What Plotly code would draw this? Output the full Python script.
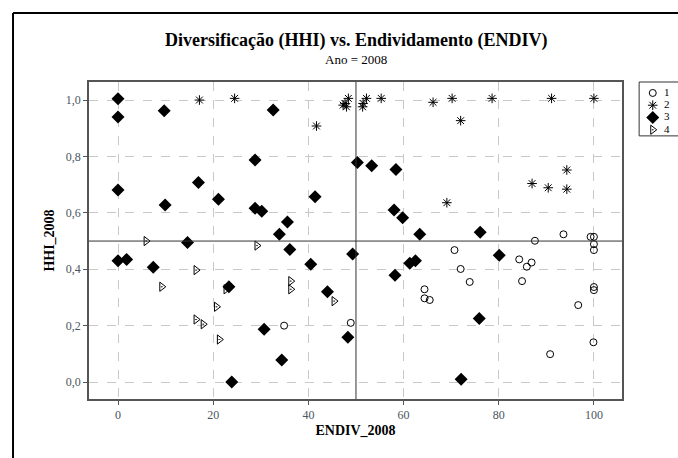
import plotly.graph_objects as go

# Group 1 (open circles)
g1_x = [34.9, 48.9, 64.4, 64.4, 65.5, 70.7, 72.0, 73.9, 84.3, 84.9, 85.9, 86.9, 87.6,
        90.8, 93.6, 96.7, 99.9, 99.3, 100.0, 100.0, 100.0, 100.0, 100.0]
g1_y = [0.200, 0.210, 0.329, 0.297, 0.291, 0.468, 0.401, 0.355, 0.435, 0.358, 0.409, 0.424, 0.501,
        0.099, 0.524, 0.273, 0.141, 0.515, 0.515, 0.489, 0.468, 0.337, 0.326]

# Group 2 (asterisks)
g2_x = [17.1, 24.5, 41.7, 48.4, 47.7, 48.0, 47.3, 52.2, 51.5, 51.4, 55.3, 66.2, 70.2,
        72.0, 78.6, 91.1, 100.0, 94.3, 87.0, 90.4, 94.3, 69.1]
g2_y = [1.000, 1.006, 0.908, 1.006, 0.988, 0.976, 0.982, 1.006, 0.988, 0.976, 1.006, 0.992, 1.006,
        0.927, 1.006, 1.006, 1.006, 0.752, 0.704, 0.689, 0.684, 0.636]

# Group 3 (filled diamonds)
g3_x = [0.0, 0.0, 9.7, 0.0, 16.9, 9.9, 21.1, 14.6, 32.6, 28.8, 50.3, 53.3, 58.4, 41.4,
        28.8, 30.2, 58.0, 59.8, 35.6, 33.9, 63.4, 36.1, 76.1, 80.1, 75.9, 72.1, 49.3,
        40.5, 61.3, 62.5, 58.2, 44.0, 30.7, 48.3, 34.4, 23.9, 23.3, 0.0, 1.8, 7.4]
g3_y = [1.005, 0.940, 0.962, 0.681, 0.708, 0.628, 0.648, 0.495, 0.965, 0.787, 0.779, 0.767, 0.754, 0.657,
        0.616, 0.606, 0.610, 0.583, 0.568, 0.524, 0.524, 0.470, 0.531, 0.450, 0.225, 0.010, 0.454,
        0.418, 0.421, 0.430, 0.379, 0.320, 0.187, 0.159, 0.078, 0.000, 0.338, 0.430, 0.435, 0.407]

# Group 4 (open right triangles)
g4_x = [5.9, 29.2, 36.3, 36.3, 45.4, 16.4, 9.2, 22.7, 20.7, 16.4, 17.9, 21.3]
g4_y = [0.500, 0.484, 0.358, 0.329, 0.287, 0.397, 0.338, 0.329, 0.267, 0.222, 0.205, 0.151]

group_names = ["1", "2", "3", "4"]
x_ticks = [0, 20, 40, 60, 80, 100]
y_ticks = [0.0, 0.2, 0.4, 0.6, 0.8, 1.0]
ref_x = 50
ref_y = 0.5

serif = "Liberation Serif, Times New Roman, serif"

styles = [
    dict(symbol="circle-open", size=7, color="black", line=dict(width=1, color="black")),
    dict(symbol="asterisk-open", size=8, color="black", line=dict(width=1, color="black")),
    dict(symbol="diamond", size=10, color="black", line=dict(width=0)),
    dict(symbol="triangle-right-open-dot", size=8, color="black", line=dict(width=1, color="black")),
]
xs = [g1_x, g2_x, g3_x, g4_x]
ys = [g1_y, g2_y, g3_y, g4_y]

fig = go.Figure()
for name, gx, gy, st in zip(group_names, xs, ys, styles):
    fig.add_trace(go.Scatter(x=gx, y=gy, mode="markers", name=name, marker=st,
                             xaxis="x", yaxis="y", showlegend=False))

# custom legend drawn on its own small axis (categories on y)
for name, st in zip(group_names, styles):
    fig.add_trace(go.Scatter(x=[0.35], y=[name], mode="markers", marker=st, cliponaxis=False,
                             xaxis="x2", yaxis="y2", showlegend=False, hoverinfo="skip"))
fig.add_trace(go.Scatter(x=[0.64] * len(group_names), y=group_names, mode="text",
                         text=group_names, textposition="middle right", cliponaxis=False,
                         textfont=dict(family=serif, size=11, color="black"),
                         xaxis="x2", yaxis="y2", showlegend=False, hoverinfo="skip"))

fig.add_shape(type="line", xref="x", yref="y domain", x0=ref_x, x1=ref_x, y0=0, y1=1,
              line=dict(color="#333", width=1))
fig.add_shape(type="line", xref="x domain", yref="y", x0=0, x1=1, y0=ref_y, y1=ref_y,
              line=dict(color="#333", width=1))

# legend box
fig.add_shape(type="rect", xref="paper", yref="paper", x0=0.934, x1=1.05, y0=0.83, y1=1.0,
              line=dict(color="#333", width=1), fillcolor="rgba(0,0,0,0)", layer="below")

# outer frame
fig.add_shape(type="line", xref="paper", yref="paper", x0=-0.129, x1=-0.129, y0=-0.3, y1=1.2177,
              line=dict(color="black", width=2))
fig.add_shape(type="line", xref="paper", yref="paper", x0=-0.129, x1=1.2, y0=1.2177, y1=1.2177,
              line=dict(color="black", width=2))

fig.update_layout(
    width=678, height=458,
    margin=dict(l=89, r=0, t=82, b=59, autoexpand=False),
    paper_bgcolor="white", plot_bgcolor="white",
    separators=",.",
    font=dict(family=serif, color="black", size=12),
    showlegend=False,
    annotations=[
        dict(text="<b>Diversificação (HHI) vs. Endividamento (ENDIV)</b>", xref="x domain", yref="paper",
             x=0.5, y=1.0, yshift=42, showarrow=False, font=dict(size=18, family=serif),
             xanchor="center", yanchor="middle"),
        dict(text="Ano = 2008", xref="x domain", yref="paper",
             x=0.5, y=1.0, yshift=23, showarrow=False, font=dict(size=13, family=serif),
             xanchor="center", yanchor="middle"),
    ],
    xaxis=dict(domain=[0, 533 / 589], range=[-6.1, 105.9], tickvals=x_ticks, ticks="outside", ticklen=4,
               tickcolor="#555", tickfont=dict(color="#4a5560", size=12),
               showgrid=True, gridcolor="#c8c8c8", griddash="dash", gridwidth=1,
               zeroline=False, showline=True, linecolor="#555", linewidth=1.5, mirror=True,
               title=dict(text="<b>ENDIV_2008</b>", font=dict(size=14), standoff=4)),
    yaxis=dict(domain=[0, 1], range=[-0.06, 1.064], tickvals=y_ticks, tickformat=".1f", ticks="outside",
               ticklen=4, tickcolor="#555", tickfont=dict(color="#4a5560", size=12),
               showgrid=True, gridcolor="#c8c8c8", griddash="dash", gridwidth=1,
               zeroline=False, showline=True, linecolor="#555", linewidth=1.5, mirror=True,
               title=dict(text="<b>HHI_2008</b>", font=dict(size=14), standoff=8)),
    xaxis2=dict(domain=[0.934, 1.0], range=[0, 1], visible=False, fixedrange=True),
    yaxis2=dict(domain=[0.83, 1.0], type="category", categoryarray=group_names,
                range=[3.5, -0.894], visible=False, fixedrange=True, anchor="x2"),
)

fig.write_html("out.html", config={"displayModeBar": False},
               post_script="document.body.style.margin='0px';")
